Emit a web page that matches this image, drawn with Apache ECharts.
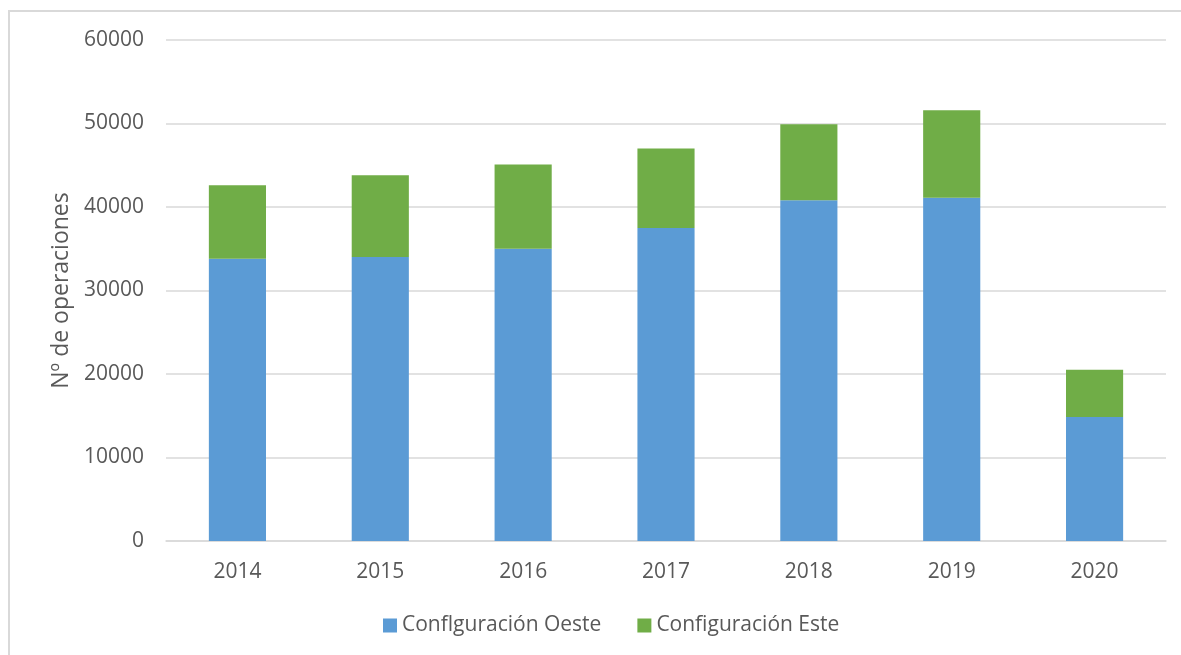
<!DOCTYPE html>
<html>
<head>
<meta charset="utf-8">
<script src="https://cdn.jsdelivr.net/npm/echarts@6/dist/echarts.min.js"></script>
<style>
  html, body { margin: 0; padding: 0; background: #fff; }
  #frame {
    position: absolute; left: 8px; top: 10px; width: 1200px; height: 700px;
    border-top: 2px solid #d9d9d9; border-left: 2px solid #d9d9d9;
  }
  #chart { position: absolute; left: 0; top: 0; width: 1181px; height: 655px; }
</style>
</head>
<body>
<div id="frame"></div>
<div id="chart"></div>
<script>
const years = ['2014', '2015', '2016', '2017', '2018', '2019', '2020'];
const oeste = [33800, 34000, 35000, 37500, 40800, 41100, 14850];
const este = [8800, 9800, 10100, 9500, 9100, 10500, 5650];
const yTicks = [0, 10000, 20000, 30000, 40000, 50000, 60000];

const textColor = '#595959';
const fontFamily = '"Open Sans", "Noto Sans", sans-serif';

const chart = echarts.init(document.getElementById('chart'));

const option = {
  animation: false,
  textStyle: { fontFamily: fontFamily, color: textColor },
  grid: { left: 166, right: 15, top: 40, bottom: 114 },
  legend: {
    bottom: 14,
    left: 378,
    itemWidth: 14,
    itemHeight: 14,
    itemGap: 36,
    icon: 'rect',
    textStyle: { fontSize: 21, color: textColor, fontFamily: fontFamily },
    data: ['Conflguración Oeste', 'Configuración Este']
  },
  xAxis: {
    type: 'category',
    data: years,
    axisTick: { show: false },
    axisLine: { lineStyle: { color: '#d9d9d9', width: 1.5 } },
    axisLabel: { fontSize: 21, color: textColor, margin: 21 }
  },
  yAxis: {
    type: 'value',
    min: yTicks[0],
    max: yTicks[yTicks.length - 1],
    interval: 10000,
    name: 'Nº de operaciones',
    nameLocation: 'middle',
    nameGap: 92,
    nameTextStyle: { fontSize: 23, color: textColor },
    axisLine: { show: false },
    axisTick: { show: false },
    axisLabel: { fontSize: 21, color: textColor, margin: 22, formatter: (v) => String(v) },
    splitLine: { lineStyle: { color: '#d9d9d9', width: 1.5 } }
  },
  series: [
    {
      name: 'Conflguración Oeste',
      type: 'bar',
      stack: 'total',
      barWidth: '40%',
      itemStyle: { color: '#5b9bd5' },
      data: oeste
    },
    {
      name: 'Configuración Este',
      type: 'bar',
      stack: 'total',
      barWidth: '40%',
      itemStyle: { color: '#70ad47' },
      data: este
    }
  ]
};

chart.setOption(option);
</script>
</body>
</html>
